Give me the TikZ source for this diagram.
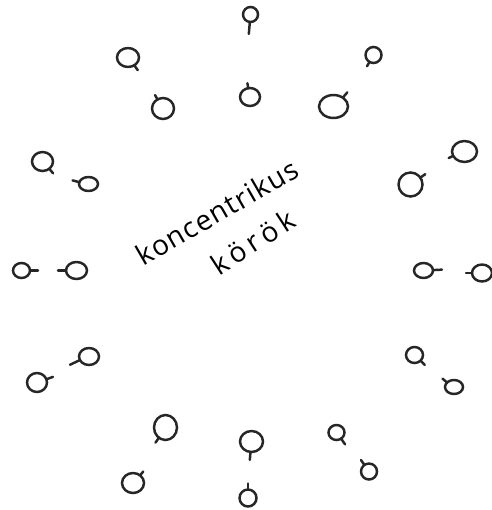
\documentclass[tikz,border=0pt]{standalone}
\usepackage{fontspec}
\setsansfont{Open Sans}
\usepackage{tikz}
\usetikzlibrary{calc}

\begin{document}
\begin{tikzpicture}[
  x=0.02cm, y=-0.02cm,
  pin/.style={line width=1.4pt, line cap=round, black!85},
  note/.style={font=\sffamily\fontsize{16}{18}\selectfont, inner sep=0pt},
]
  \useasboundingbox (0,0) rectangle (491,510);

  % Pins: centre x/y, radii, stem angle, stem length
  \foreach \px/\py/\rx/\ry/\a/\l in {
      128/57.5/11/9.5/55/6,      163/108.5/11/10.5/-120/5,
      42.5/161.5/10.5/9.5/50/6,  88.5/184/9.5/7/-165/7,
      250.5/14.5/7.5/7.5/95/12,  250/97/10/9/-100/5,
      373.5/55/8/8/120/5,        333.5/106.5/14.5/11.5/-50/7,
      464.5/151.5/12.5/10.5/155/5, 410.5/184.5/12/12/-35/6,
      21.5/270.5/8.5/7.5/0/8,    76.5/270.5/10.5/8.5/180/8,
      89/356.5/10/8.5/155/11,    37/382.5/10/9.5/-20/7,
      165.5/427.5/11.5/12.5/125/6, 133/483/11/10/-50/5,
      423.5/270.5/9.5/7.5/-3/9,  482/273/10/8.5/180/6,
      414.5/355/8.5/8/45/6,      454/387/9/7/-140/6,
      251.5/441.5/11.5/10.5/95/8, 248/498/8.5/8.5/-90/6,
      336.5/432.5/8/7.5/55/7,    369/471.5/8/8/-125/6}
  {
    \draw[pin] (\px,\py) ellipse [x radius=\rx, y radius=\ry];
    \draw[pin] (\px,\py) ++({\rx*cos(\a)},{\ry*sin(\a)}) -- ++(\a:\l);
  }

  % Labels
  \node[note, rotate=30] (title) at (217,212)
    {\addfontfeature{LetterSpace=4}koncentrikus};
  \node[note, rotate=33] (sub) at (253,242)
    {\addfontfeature{LetterSpace=18}körök};

\end{tikzpicture}
\end{document}
